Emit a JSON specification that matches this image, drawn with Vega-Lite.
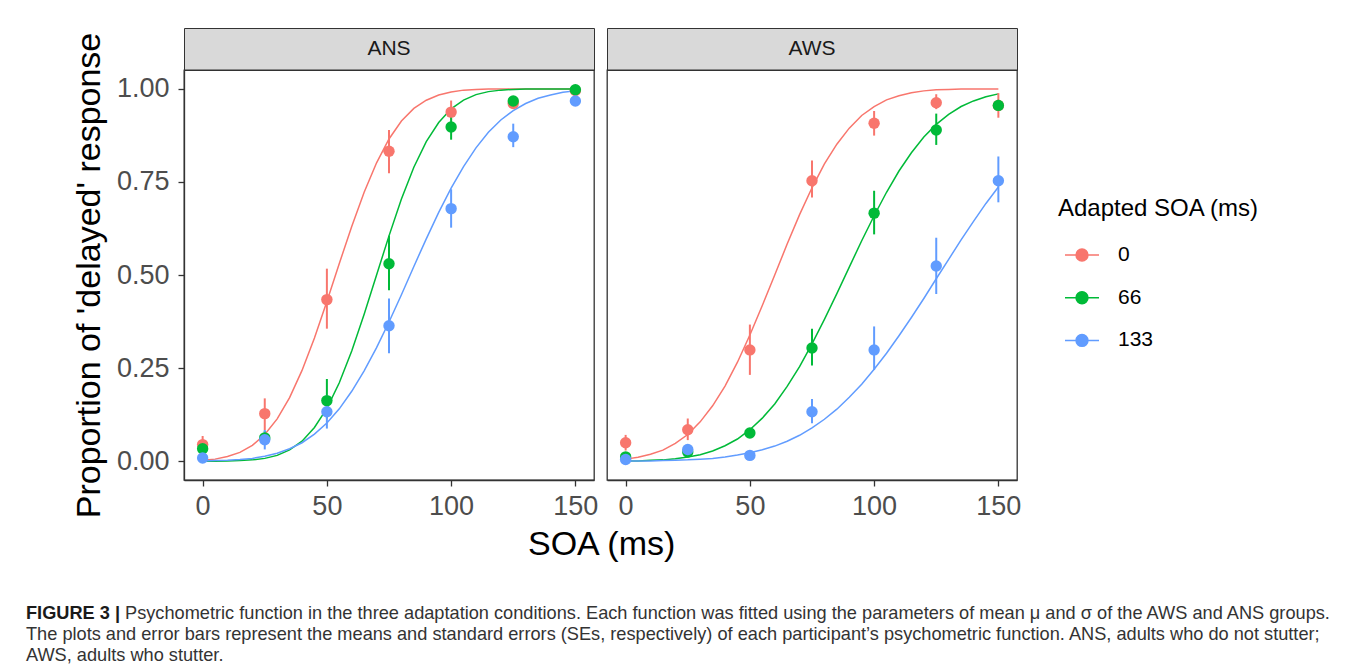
{
  "$schema": "https://vega.github.io/schema/vega-lite/v6.json",
  "background": "white",
  "padding": {"left": 25, "top": 27, "right": 0, "bottom": 0},
  "config": {
    "font": "Liberation Sans",
    "view": {"stroke": "#333333", "strokeWidth": 1.3},
    "axis": {"grid": false, "domainColor": "#333333", "domainWidth": 1.3, "tickColor": "#333333", "tickWidth": 1.3, "tickSize": 6, "labelFontSize": 27, "labelColor": "#4D4D4D", "labelFont": "Liberation Sans", "titleFont": "Liberation Sans", "titleFontSize": 34, "titleFontWeight": "normal", "titleColor": "black"}
  },
  "datasets": {
    "pts": [
      {"g":"ANS","a":"0","x":0,"p":0.045,"lo":0.021,"hi":0.068},
      {"g":"ANS","a":"0","x":25,"p":0.128,"lo":0.084,"hi":0.169},
      {"g":"ANS","a":"0","x":50,"p":0.434,"lo":0.356,"hi":0.517},
      {"g":"ANS","a":"0","x":75,"p":0.832,"lo":0.773,"hi":0.889},
      {"g":"ANS","a":"0","x":100,"p":0.937,"lo":0.915,"hi":0.968},
      {"g":"ANS","a":"0","x":125,"p":0.960,"lo":0.950,"hi":0.970},
      {"g":"ANS","a":"0","x":150,"p":0.995,"lo":0.990,"hi":1.0},
      {"g":"ANS","a":"66","x":0,"p":0.034,"lo":0.020,"hi":0.050},
      {"g":"ANS","a":"66","x":25,"p":0.063,"lo":0.045,"hi":0.082},
      {"g":"ANS","a":"66","x":50,"p":0.163,"lo":0.115,"hi":0.221},
      {"g":"ANS","a":"66","x":75,"p":0.530,"lo":0.459,"hi":0.605},
      {"g":"ANS","a":"66","x":100,"p":0.897,"lo":0.863,"hi":0.931},
      {"g":"ANS","a":"66","x":125,"p":0.967,"lo":0.957,"hi":0.977},
      {"g":"ANS","a":"66","x":150,"p":0.997,"lo":0.992,"hi":1.0},
      {"g":"ANS","a":"133","x":0,"p":0.009,"lo":0.002,"hi":0.016},
      {"g":"ANS","a":"133","x":25,"p":0.058,"lo":0.032,"hi":0.084},
      {"g":"ANS","a":"133","x":50,"p":0.133,"lo":0.088,"hi":0.178},
      {"g":"ANS","a":"133","x":75,"p":0.364,"lo":0.290,"hi":0.437},
      {"g":"ANS","a":"133","x":100,"p":0.678,"lo":0.627,"hi":0.730},
      {"g":"ANS","a":"133","x":125,"p":0.871,"lo":0.843,"hi":0.906},
      {"g":"ANS","a":"133","x":150,"p":0.967,"lo":0.957,"hi":0.977},
      {"g":"AWS","a":"0","x":0,"p":0.050,"lo":0.029,"hi":0.071},
      {"g":"AWS","a":"0","x":25,"p":0.085,"lo":0.057,"hi":0.115},
      {"g":"AWS","a":"0","x":50,"p":0.299,"lo":0.232,"hi":0.367},
      {"g":"AWS","a":"0","x":75,"p":0.753,"lo":0.708,"hi":0.807},
      {"g":"AWS","a":"0","x":100,"p":0.907,"lo":0.874,"hi":0.940},
      {"g":"AWS","a":"0","x":125,"p":0.962,"lo":0.945,"hi":0.985},
      {"g":"AWS","a":"0","x":150,"p":0.955,"lo":0.922,"hi":0.988},
      {"g":"AWS","a":"66","x":0,"p":0.012,"lo":0.005,"hi":0.020},
      {"g":"AWS","a":"66","x":25,"p":0.025,"lo":0.018,"hi":0.032},
      {"g":"AWS","a":"66","x":50,"p":0.076,"lo":0.066,"hi":0.086},
      {"g":"AWS","a":"66","x":75,"p":0.304,"lo":0.257,"hi":0.356},
      {"g":"AWS","a":"66","x":100,"p":0.666,"lo":0.609,"hi":0.726},
      {"g":"AWS","a":"66","x":125,"p":0.889,"lo":0.849,"hi":0.933},
      {"g":"AWS","a":"66","x":150,"p":0.955,"lo":0.940,"hi":0.970},
      {"g":"AWS","a":"133","x":0,"p":0.005,"lo":0.0,"hi":0.010},
      {"g":"AWS","a":"133","x":25,"p":0.032,"lo":0.025,"hi":0.040},
      {"g":"AWS","a":"133","x":50,"p":0.016,"lo":0.010,"hi":0.022},
      {"g":"AWS","a":"133","x":75,"p":0.133,"lo":0.102,"hi":0.167},
      {"g":"AWS","a":"133","x":100,"p":0.299,"lo":0.245,"hi":0.362},
      {"g":"AWS","a":"133","x":125,"p":0.524,"lo":0.449,"hi":0.600},
      {"g":"AWS","a":"133","x":150,"p":0.753,"lo":0.695,"hi":0.818}
    ],
    "curves": [
      {"g":"ANS","a":"0","x":0,"p":0.003},{"g":"ANS","a":"0","x":5,"p":0.006},{"g":"ANS","a":"0","x":10,"p":0.013},{"g":"ANS","a":"0","x":15,"p":0.024},{"g":"ANS","a":"0","x":20,"p":0.043},{"g":"ANS","a":"0","x":25,"p":0.072},{"g":"ANS","a":"0","x":30,"p":0.114},{"g":"ANS","a":"0","x":35,"p":0.171},{"g":"ANS","a":"0","x":40,"p":0.244},{"g":"ANS","a":"0","x":45,"p":0.331},{"g":"ANS","a":"0","x":50,"p":0.429},{"g":"ANS","a":"0","x":55,"p":0.531},{"g":"ANS","a":"0","x":60,"p":0.630},{"g":"ANS","a":"0","x":65,"p":0.722},{"g":"ANS","a":"0","x":70,"p":0.801},{"g":"ANS","a":"0","x":75,"p":0.865},{"g":"ANS","a":"0","x":80,"p":0.913},{"g":"ANS","a":"0","x":85,"p":0.947},{"g":"ANS","a":"0","x":90,"p":0.969},{"g":"ANS","a":"0","x":95,"p":0.983},{"g":"ANS","a":"0","x":100,"p":0.991},{"g":"ANS","a":"0","x":105,"p":0.996},{"g":"ANS","a":"0","x":110,"p":0.998},{"g":"ANS","a":"0","x":115,"p":0.999},{"g":"ANS","a":"0","x":120,"p":0.999},{"g":"ANS","a":"0","x":125,"p":0.999},{"g":"ANS","a":"0","x":130,"p":0.999},{"g":"ANS","a":"0","x":135,"p":0.999},{"g":"ANS","a":"0","x":140,"p":0.999},{"g":"ANS","a":"0","x":145,"p":0.999},{"g":"ANS","a":"0","x":150,"p":0.999},
      {"g":"ANS","a":"66","x":0,"p":0.0},{"g":"ANS","a":"66","x":5,"p":0.0},{"g":"ANS","a":"66","x":10,"p":0.001},{"g":"ANS","a":"66","x":15,"p":0.002},{"g":"ANS","a":"66","x":20,"p":0.004},{"g":"ANS","a":"66","x":25,"p":0.008},{"g":"ANS","a":"66","x":30,"p":0.016},{"g":"ANS","a":"66","x":35,"p":0.031},{"g":"ANS","a":"66","x":40,"p":0.054},{"g":"ANS","a":"66","x":45,"p":0.091},{"g":"ANS","a":"66","x":50,"p":0.142},{"g":"ANS","a":"66","x":55,"p":0.211},{"g":"ANS","a":"66","x":60,"p":0.296},{"g":"ANS","a":"66","x":65,"p":0.395},{"g":"ANS","a":"66","x":70,"p":0.5},{"g":"ANS","a":"66","x":75,"p":0.605},{"g":"ANS","a":"66","x":80,"p":0.704},{"g":"ANS","a":"66","x":85,"p":0.789},{"g":"ANS","a":"66","x":90,"p":0.858},{"g":"ANS","a":"66","x":95,"p":0.909},{"g":"ANS","a":"66","x":100,"p":0.946},{"g":"ANS","a":"66","x":105,"p":0.969},{"g":"ANS","a":"66","x":110,"p":0.984},{"g":"ANS","a":"66","x":115,"p":0.992},{"g":"ANS","a":"66","x":120,"p":0.996},{"g":"ANS","a":"66","x":125,"p":0.998},{"g":"ANS","a":"66","x":130,"p":0.999},{"g":"ANS","a":"66","x":135,"p":0.999},{"g":"ANS","a":"66","x":140,"p":0.999},{"g":"ANS","a":"66","x":145,"p":0.999},{"g":"ANS","a":"66","x":150,"p":0.999},
      {"g":"ANS","a":"133","x":0,"p":0.001},{"g":"ANS","a":"133","x":5,"p":0.002},{"g":"ANS","a":"133","x":10,"p":0.003},{"g":"ANS","a":"133","x":15,"p":0.005},{"g":"ANS","a":"133","x":20,"p":0.008},{"g":"ANS","a":"133","x":25,"p":0.014},{"g":"ANS","a":"133","x":30,"p":0.022},{"g":"ANS","a":"133","x":35,"p":0.034},{"g":"ANS","a":"133","x":40,"p":0.050},{"g":"ANS","a":"133","x":45,"p":0.073},{"g":"ANS","a":"133","x":50,"p":0.103},{"g":"ANS","a":"133","x":55,"p":0.141},{"g":"ANS","a":"133","x":60,"p":0.188},{"g":"ANS","a":"133","x":65,"p":0.243},{"g":"ANS","a":"133","x":70,"p":0.305},{"g":"ANS","a":"133","x":75,"p":0.374},{"g":"ANS","a":"133","x":80,"p":0.447},{"g":"ANS","a":"133","x":85,"p":0.523},{"g":"ANS","a":"133","x":90,"p":0.597},{"g":"ANS","a":"133","x":95,"p":0.668},{"g":"ANS","a":"133","x":100,"p":0.733},{"g":"ANS","a":"133","x":105,"p":0.791},{"g":"ANS","a":"133","x":110,"p":0.841},{"g":"ANS","a":"133","x":115,"p":0.883},{"g":"ANS","a":"133","x":120,"p":0.916},{"g":"ANS","a":"133","x":125,"p":0.941},{"g":"ANS","a":"133","x":130,"p":0.960},{"g":"ANS","a":"133","x":135,"p":0.974},{"g":"ANS","a":"133","x":140,"p":0.983},{"g":"ANS","a":"133","x":145,"p":0.990},{"g":"ANS","a":"133","x":150,"p":0.994},
      {"g":"AWS","a":"0","x":0,"p":0.006},{"g":"AWS","a":"0","x":5,"p":0.011},{"g":"AWS","a":"0","x":10,"p":0.019},{"g":"AWS","a":"0","x":15,"p":0.030},{"g":"AWS","a":"0","x":20,"p":0.048},{"g":"AWS","a":"0","x":25,"p":0.072},{"g":"AWS","a":"0","x":30,"p":0.106},{"g":"AWS","a":"0","x":35,"p":0.149},{"g":"AWS","a":"0","x":40,"p":0.202},{"g":"AWS","a":"0","x":45,"p":0.266},{"g":"AWS","a":"0","x":50,"p":0.339},{"g":"AWS","a":"0","x":55,"p":0.418},{"g":"AWS","a":"0","x":60,"p":0.5},{"g":"AWS","a":"0","x":65,"p":0.583},{"g":"AWS","a":"0","x":70,"p":0.662},{"g":"AWS","a":"0","x":75,"p":0.734},{"g":"AWS","a":"0","x":80,"p":0.798},{"g":"AWS","a":"0","x":85,"p":0.851},{"g":"AWS","a":"0","x":90,"p":0.894},{"g":"AWS","a":"0","x":95,"p":0.928},{"g":"AWS","a":"0","x":100,"p":0.952},{"g":"AWS","a":"0","x":105,"p":0.970},{"g":"AWS","a":"0","x":110,"p":0.981},{"g":"AWS","a":"0","x":115,"p":0.989},{"g":"AWS","a":"0","x":120,"p":0.994},{"g":"AWS","a":"0","x":125,"p":0.997},{"g":"AWS","a":"0","x":130,"p":0.998},{"g":"AWS","a":"0","x":135,"p":0.999},{"g":"AWS","a":"0","x":140,"p":0.999},{"g":"AWS","a":"0","x":145,"p":0.999},{"g":"AWS","a":"0","x":150,"p":0.999},
      {"g":"AWS","a":"66","x":0,"p":0.001},{"g":"AWS","a":"66","x":5,"p":0.001},{"g":"AWS","a":"66","x":10,"p":0.003},{"g":"AWS","a":"66","x":15,"p":0.004},{"g":"AWS","a":"66","x":20,"p":0.007},{"g":"AWS","a":"66","x":25,"p":0.012},{"g":"AWS","a":"66","x":30,"p":0.018},{"g":"AWS","a":"66","x":35,"p":0.028},{"g":"AWS","a":"66","x":40,"p":0.042},{"g":"AWS","a":"66","x":45,"p":0.060},{"g":"AWS","a":"66","x":50,"p":0.085},{"g":"AWS","a":"66","x":55,"p":0.116},{"g":"AWS","a":"66","x":60,"p":0.154},{"g":"AWS","a":"66","x":65,"p":0.201},{"g":"AWS","a":"66","x":70,"p":0.254},{"g":"AWS","a":"66","x":75,"p":0.315},{"g":"AWS","a":"66","x":80,"p":0.381},{"g":"AWS","a":"66","x":85,"p":0.450},{"g":"AWS","a":"66","x":90,"p":0.521},{"g":"AWS","a":"66","x":95,"p":0.592},{"g":"AWS","a":"66","x":100,"p":0.659},{"g":"AWS","a":"66","x":105,"p":0.722},{"g":"AWS","a":"66","x":110,"p":0.779},{"g":"AWS","a":"66","x":115,"p":0.828},{"g":"AWS","a":"66","x":120,"p":0.870},{"g":"AWS","a":"66","x":125,"p":0.904},{"g":"AWS","a":"66","x":130,"p":0.931},{"g":"AWS","a":"66","x":135,"p":0.952},{"g":"AWS","a":"66","x":140,"p":0.967},{"g":"AWS","a":"66","x":145,"p":0.978},{"g":"AWS","a":"66","x":150,"p":0.986},
      {"g":"AWS","a":"133","x":0,"p":0.001},{"g":"AWS","a":"133","x":5,"p":0.001},{"g":"AWS","a":"133","x":10,"p":0.001},{"g":"AWS","a":"133","x":15,"p":0.002},{"g":"AWS","a":"133","x":20,"p":0.003},{"g":"AWS","a":"133","x":25,"p":0.004},{"g":"AWS","a":"133","x":30,"p":0.006},{"g":"AWS","a":"133","x":35,"p":0.008},{"g":"AWS","a":"133","x":40,"p":0.012},{"g":"AWS","a":"133","x":45,"p":0.017},{"g":"AWS","a":"133","x":50,"p":0.023},{"g":"AWS","a":"133","x":55,"p":0.031},{"g":"AWS","a":"133","x":60,"p":0.041},{"g":"AWS","a":"133","x":65,"p":0.054},{"g":"AWS","a":"133","x":70,"p":0.070},{"g":"AWS","a":"133","x":75,"p":0.090},{"g":"AWS","a":"133","x":80,"p":0.113},{"g":"AWS","a":"133","x":85,"p":0.140},{"g":"AWS","a":"133","x":90,"p":0.172},{"g":"AWS","a":"133","x":95,"p":0.207},{"g":"AWS","a":"133","x":100,"p":0.247},{"g":"AWS","a":"133","x":105,"p":0.290},{"g":"AWS","a":"133","x":110,"p":0.337},{"g":"AWS","a":"133","x":115,"p":0.386},{"g":"AWS","a":"133","x":120,"p":0.437},{"g":"AWS","a":"133","x":125,"p":0.490},{"g":"AWS","a":"133","x":130,"p":0.542},{"g":"AWS","a":"133","x":135,"p":0.594},{"g":"AWS","a":"133","x":140,"p":0.644},{"g":"AWS","a":"133","x":145,"p":0.692},{"g":"AWS","a":"133","x":150,"p":0.736}
    ],
    "caption": [
      {"line": 1, "part": "bold", "text": "FIGURE 3 |"},
      {"line": 1, "part": "first", "text": "Psychometric function in the three adaptation conditions. Each function was fitted using the parameters of mean μ and σ of the AWS and ANS groups."},
      {"line": 2, "part": "rest", "text": "The plots and error bars represent the means and standard errors (SEs, respectively) of each participant’s psychometric function. ANS, adults who do not stutter;"},
      {"line": 3, "part": "rest", "text": "AWS, adults who stutter."}
    ]
  },
  "resolve": {"scale": {"color": "shared"}, "legend": {"color": "shared"}},
  "spacing": 42,
  "vconcat": [
    {
      "spacing": 7,
      "title": {"text": "SOA (ms)", "orient": "bottom", "anchor": "middle", "frame": "bounds", "dx": 55, "fontSize": 34, "fontWeight": "normal", "color": "black", "font": "Liberation Sans", "offset": 8},
      "hconcat": [
        {
          "bounds": "flush",
          "spacing": 0,
          "vconcat": [
            {
              "width": 410, "height": 42,
              "data": {"values": [{"label": "ANS"}]},
              "mark": {"type": "text", "fontSize": 21, "color": "#1A1A1A", "font": "Liberation Sans"},
              "encoding": {"text": {"field": "label"}},
              "view": {"fill": "#D9D9D9", "stroke": "#333333", "strokeWidth": 1}
            },
            {
              "width": 410, "height": 410,
              "layer": [
                {
                  "data": {"name": "curves"},
                  "transform": [{"filter": "datum.g === 'ANS'"}],
                  "mark": {"type": "line", "strokeWidth": 1.5},
                  "encoding": {
                    "x": {"field": "x", "type": "quantitative", "scale": {"domain": [-7.5, 157.5], "nice": false, "zero": false}, "axis": {"values": [0, 50, 100, 150], "title": null, "labelPadding": 7}},
                    "y": {"field": "p", "type": "quantitative", "scale": {"domain": [-0.05, 1.05], "nice": false, "zero": false}, "axis": {"values": [0, 0.25, 0.5, 0.75, 1], "format": ".2f", "title": "Proportion of 'delayed' response", "labelPadding": 9, "titlePadding": 10}},
                    "color": {"field": "a", "type": "nominal", "scale": {"domain": ["0", "66", "133"], "range": ["#F8766D", "#00BA38", "#619CFF"]},
                      "legend": {"title": "Adapted SOA (ms)", "orient": "none", "legendX": 874, "legendY": 169, "titleLimit": 500, "titleFontSize": 24, "titleFontWeight": "normal", "titleColor": "black", "titleFont": "Liberation Sans", "labelFont": "Liberation Sans", "labelFontSize": 21, "labelColor": "black", "symbolType": "M-1,0L1,0M-0.35,0A0.35,0.35,0,1,0,0.35,0A0.35,0.35,0,1,0,-0.35,0Z", "symbolSize": 1156, "symbolStrokeWidth": 1.5, "symbolOffset": 6, "labelOffset": 18, "rowPadding": 14.7, "titlePadding": 16,
                        "encode": {"symbols": {"update": {"fill": {"scale": "color", "field": "value"}, "stroke": {"scale": "color", "field": "value"}, "opacity": {"value": 1}}}}}}
                  }
                },
                {
                  "data": {"name": "pts"},
                  "transform": [{"filter": "datum.g === 'ANS'"}],
                  "mark": {"type": "rule", "strokeWidth": 2},
                  "encoding": {
                    "x": {"field": "x", "type": "quantitative"},
                    "y": {"field": "lo", "type": "quantitative"},
                    "y2": {"field": "hi"},
                    "color": {"field": "a", "type": "nominal"}
                  }
                },
                {
                  "data": {"name": "pts"},
                  "transform": [{"filter": "datum.g === 'ANS'"}],
                  "mark": {"type": "point", "filled": true, "size": 130, "opacity": 1},
                  "encoding": {
                    "x": {"field": "x", "type": "quantitative"},
                    "y": {"field": "p", "type": "quantitative"},
                    "color": {"field": "a", "type": "nominal"}
                  }
                }
              ]
            }
          ]
        },
        {
          "bounds": "flush",
          "spacing": 0,
          "vconcat": [
            {
              "width": 410, "height": 42,
              "data": {"values": [{"label": "AWS"}]},
              "mark": {"type": "text", "fontSize": 21, "color": "#1A1A1A", "font": "Liberation Sans"},
              "encoding": {"text": {"field": "label"}},
              "view": {"fill": "#D9D9D9", "stroke": "#333333", "strokeWidth": 1}
            },
            {
              "width": 410, "height": 410,
              "layer": [
                {
                  "data": {"name": "curves"},
                  "transform": [{"filter": "datum.g === 'AWS'"}],
                  "mark": {"type": "line", "strokeWidth": 1.5},
                  "encoding": {
                    "x": {"field": "x", "type": "quantitative", "scale": {"domain": [-7.5, 157.5], "nice": false, "zero": false}, "axis": {"values": [0, 50, 100, 150], "title": null, "labelPadding": 7}},
                    "y": {"field": "p", "type": "quantitative", "scale": {"domain": [-0.05, 1.05], "nice": false, "zero": false}, "axis": null},
                    "color": {"field": "a", "type": "nominal"}
                  }
                },
                {
                  "data": {"name": "pts"},
                  "transform": [{"filter": "datum.g === 'AWS'"}],
                  "mark": {"type": "rule", "strokeWidth": 2},
                  "encoding": {
                    "x": {"field": "x", "type": "quantitative"},
                    "y": {"field": "lo", "type": "quantitative"},
                    "y2": {"field": "hi"},
                    "color": {"field": "a", "type": "nominal"}
                  }
                },
                {
                  "data": {"name": "pts"},
                  "transform": [{"filter": "datum.g === 'AWS'"}],
                  "mark": {"type": "point", "filled": true, "size": 130, "opacity": 1},
                  "encoding": {
                    "x": {"field": "x", "type": "quantitative"},
                    "y": {"field": "p", "type": "quantitative"},
                    "color": {"field": "a", "type": "nominal"}
                  }
                }
              ]
            }
          ]
        }
      ]
    },
    {
      "width": 1150, "height": 42,
      "data": {"name": "caption"},
      "view": {"stroke": null},
      "encoding": {
        "y": {"field": "line", "type": "ordinal", "axis": null, "scale": {"type": "point", "padding": 0}},
        "text": {"field": "text"}
      },
      "layer": [
        {
          "transform": [{"filter": "datum.part === 'bold'"}],
          "mark": {"type": "text", "align": "left", "baseline": "alphabetic", "fontSize": 18.2, "fontWeight": "bold", "font": "Liberation Sans", "color": "#1A1A1A"},
          "encoding": {"x": {"datum": 0, "type": "quantitative", "scale": {"domain": [13.74, 113.74], "nice": false, "zero": false}, "axis": null}}
        },
        {
          "transform": [{"filter": "datum.part === 'first'"}],
          "mark": {"type": "text", "align": "left", "baseline": "alphabetic", "fontSize": 18.2, "font": "Liberation Sans", "color": "#333333"},
          "encoding": {"x": {"datum": 8.61, "type": "quantitative", "axis": null}}
        },
        {
          "transform": [{"filter": "datum.part === 'rest'"}],
          "mark": {"type": "text", "align": "left", "baseline": "alphabetic", "fontSize": 18.2, "font": "Liberation Sans", "color": "#333333"},
          "encoding": {"x": {"datum": 0, "type": "quantitative", "axis": null}}
        }
      ]
    }
  ]
}
